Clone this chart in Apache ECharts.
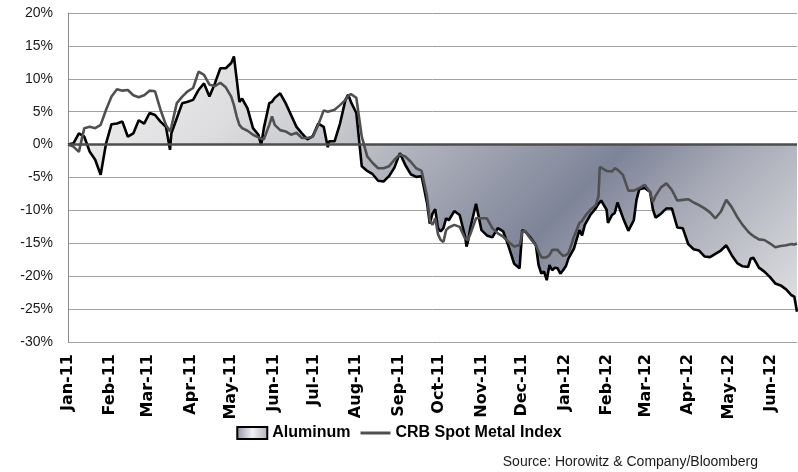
<!DOCTYPE html>
<html>
<head>
<meta charset="utf-8">
<title>Aluminum vs CRB Spot Metal Index</title>
<script src="https://cdn.jsdelivr.net/npm/echarts@6/dist/echarts.min.js"></script>
<style>
  html, body { margin: 0; padding: 0; background: #fff; }
  #chart { width: 798px; height: 472px; }
</style>
</head>
<body>
<div id="chart"></div>
<script>
// sample dates, values in % change since Jan-11
const dates = [
  '2011-01-01','2011-01-05','2011-01-09','2011-01-13','2011-01-17','2011-01-21','2011-01-25','2011-01-29',
  '2011-02-02','2011-02-06','2011-02-10','2011-02-14','2011-02-18','2011-02-22','2011-02-26',
  '2011-03-02','2011-03-06','2011-03-10','2011-03-14','2011-03-17','2011-03-18','2011-03-22','2011-03-26','2011-03-30',
  '2011-04-03','2011-04-07','2011-04-11','2011-04-15','2011-04-19','2011-04-23','2011-04-27',
  '2011-05-01','2011-05-03','2011-05-05','2011-05-07','2011-05-09','2011-05-13','2011-05-17','2011-05-21','2011-05-23','2011-05-25','2011-05-29','2011-05-31',
  '2011-06-02','2011-06-06','2011-06-10','2011-06-14','2011-06-18','2011-06-22','2011-06-26','2011-06-30',
  '2011-07-04','2011-07-08','2011-07-11','2011-07-12','2011-07-16','2011-07-20','2011-07-24','2011-07-26','2011-07-28',
  '2011-08-01','2011-08-05','2011-08-09','2011-08-13','2011-08-17','2011-08-21','2011-08-25','2011-08-29',
  '2011-09-02','2011-09-06','2011-09-10','2011-09-14','2011-09-18','2011-09-22','2011-09-24','2011-09-26','2011-09-28','2011-09-30',
  '2011-10-02','2011-10-04','2011-10-06','2011-10-08','2011-10-12','2011-10-16','2011-10-20','2011-10-21','2011-10-22','2011-10-24','2011-10-28',
  '2011-11-01','2011-11-05','2011-11-09','2011-11-13','2011-11-17','2011-11-21','2011-11-25','2011-11-29','2011-11-30',
  '2011-12-01','2011-12-03','2011-12-07','2011-12-11','2011-12-13','2011-12-15','2011-12-17','2011-12-19','2011-12-21','2011-12-23','2011-12-25','2011-12-27','2011-12-29','2011-12-31',
  '2012-01-02','2012-01-04','2012-01-08','2012-01-12','2012-01-14','2012-01-16','2012-01-20','2012-01-24','2012-01-26','2012-01-27','2012-01-28',
  '2012-02-01','2012-02-02','2012-02-05','2012-02-07','2012-02-09','2012-02-13','2012-02-17','2012-02-21','2012-02-23','2012-02-25','2012-02-29',
  '2012-03-04','2012-03-06','2012-03-08','2012-03-12','2012-03-16','2012-03-20','2012-03-24','2012-03-28',
  '2012-04-01','2012-04-05','2012-04-09','2012-04-13','2012-04-17','2012-04-21','2012-04-25','2012-04-29',
  '2012-05-03','2012-05-07','2012-05-11','2012-05-15','2012-05-17','2012-05-19','2012-05-23','2012-05-27','2012-05-31',
  '2012-06-04','2012-06-08','2012-06-12','2012-06-16','2012-06-18','2012-06-19','2012-06-20'
];

const aluminum = [
  0, 0.2, 1.7, 1.2, -1.1, -2.3, -4.6, 0.2,
  3.1, 3.2, 3.5, 1.2, 1.7, 3.7, 3.2,
  4.8, 4.5, 3.5, 2.7, -0.8, 1.7, 4.0, 6.3, 6.5,
  6.8, 8.3, 9.3, 7.3, 9.3, 11.6, 11.6,
  12.4, 13.4, 10.0, 6.5, 7.0, 5.5, 2.5, 1.5, -0.1, 2.5, 6.3, 6.5,
  7.1, 7.8, 6.3, 4.5, 2.7, 1.7, 0.8, 1.3,
  3.2, 2.7, -0.4, 0.5, 0.5, 3.2, 6.8, 7.6, 6.5,
  4.8, -3.3, -4.0, -4.5, -5.5, -5.6, -4.8, -3.5,
  -1.3, -3.1, -4.5, -4.9, -4.8, -8.9, -12.0, -10.5, -9.8, -12.7,
  -13.2, -12.7, -11.2, -11.5, -10.1, -10.7, -14.0, -15.5, -14.8, -12.5, -9.0,
  -13.0, -13.8, -14.1, -12.7, -13.2, -15.5, -18.1, -18.8, -18.8,
  -13.0, -13.2, -14.1, -15.3, -18.3, -19.6, -19.3, -20.6, -18.3, -19.1, -18.7, -18.8, -19.6, -19.1,
  -18.5, -17.3, -15.8, -13.0, -13.8, -12.2, -10.7, -9.7, -9.0, -8.7, -8.5,
  -9.9, -11.9, -10.7, -10.4, -8.8, -11.1, -13.1, -11.5, -8.4, -6.8, -6.6,
  -7.2, -9.8, -11.1, -10.5, -9.7, -9.7, -12.6, -12.7,
  -15.1, -15.9, -16.1, -17.0, -17.1, -16.6, -16.1, -15.3,
  -16.8, -18.0, -18.5, -18.6, -17.3, -17.2, -18.7, -19.3, -20.1,
  -21.1, -21.4, -22.0, -22.9, -23.1, -23.4, -25.4
];

const crb = [
  0, -0.3, -1.1, 2.5, 2.7, 2.5, 3.0, 5.3,
  7.3, 8.4, 8.2, 8.3, 7.5, 7.2, 7.5,
  8.2, 8.1, 5.3, 3.0, 2.0, 2.7, 6.3, 7.3, 8.1,
  8.6, 11.1, 10.6, 9.1, 8.9, 9.4, 8.7,
  7.3, 6.0, 4.3, 3.0, 2.5, 2.1, 1.5, 1.1, 0.9, 0.8, 3.0, 4.3,
  3.0, 2.2, 2.0, 1.5, 1.8, 1.0, 1.0, 1.2,
  3.0, 5.2, 5.0, 4.9, 5.3, 6.0, 6.8, 7.4, 7.7,
  7.1, 1.2, -1.8, -2.8, -3.6, -3.6, -3.3, -2.3,
  -1.5, -1.8, -2.6, -3.6, -4.0, -7.9, -11.5, -12.2, -11.2, -13.6,
  -14.5, -14.8, -13.0, -12.6, -12.2, -12.5, -14.3, -14.5, -14.5, -13.5, -11.2,
  -11.2, -11.2, -12.7, -13.5, -14.0, -14.8, -15.5, -15.3, -14.5,
  -13.2, -13.1, -14.3, -15.3, -16.3, -17.1, -17.2, -17.1, -16.8, -16.0, -16.0, -16.0, -16.5, -16.9,
  -16.8, -16.5, -14.0, -11.9, -11.6, -10.9, -9.9, -9.2, -7.9, -3.4, -3.1,
  -4.0, -4.1, -4.1, -3.6, -3.8, -4.6, -7.0, -7.0, -6.8, -6.6, -6.1,
  -7.2, -8.7, -7.8, -6.5, -5.9, -6.9, -8.5, -8.4,
  -8.3, -8.8, -9.2, -9.7, -10.3, -11.2, -10.2, -8.4,
  -9.5, -11.0, -12.2, -13.2, -13.6, -13.9, -14.4, -14.5, -15.0,
  -15.6, -15.4, -15.3, -15.1, -15.2, -15.0, -15.0
];

const monthNames = ['Jan', 'Feb', 'Mar', 'Apr', 'May', 'Jun', 'Jul', 'Aug', 'Sep', 'Oct', 'Nov', 'Dec'];

// one category per calendar day so month labels land on the 1st
function dayRange(from, to) {
  const out = [];
  const d = new Date(from + 'T00:00:00Z');
  const end = new Date(to + 'T00:00:00Z');
  while (d <= end) {
    out.push(d.toISOString().slice(0, 10));
    d.setUTCDate(d.getUTCDate() + 1);
  }
  return out;
}
const days = dayRange(dates[0], dates[dates.length - 1]);

const fill = {
  type: 'linear', x: 0, y: 0, x2: 560, y2: 560, global: true,
  colorStops: [
    { offset: 0, color: '#f3f3f3' },
    { offset: 0.21, color: '#e9e9ea' },
    { offset: 0.31, color: '#dcdcde' },
    { offset: 0.41, color: '#c8c9ce' },
    { offset: 0.55, color: '#a3a7b4' },
    { offset: 0.69, color: '#7e8498' },
    { offset: 0.80, color: '#a8abb7' },
    { offset: 0.93, color: '#cfd0d5' },
    { offset: 1, color: '#e3e3e5' }
  ]
}

const legendFill = {
  type: 'linear', x: 0, y: 0, x2: 1, y2: 0,
  colorStops: [
    { offset: 0, color: '#8d92a3' },
    { offset: 0.5, color: '#f2f2f5' },
    { offset: 1, color: '#aeb1bc' }
  ]
}

const chart = echarts.init(document.getElementById('chart'));

chart.setOption({
  animation: false,
  backgroundColor: '#fff',
  grid: { left: 68, right: 1, top: 13, bottom: 130 },
  xAxis: {
    type: 'category',
    data: days,
    boundaryGap: false,
    axisLine: { show: false },
    axisTick: { show: false },
    splitLine: { show: false },
    axisLabel: {
      interval: (idx, value) => value.endsWith('-01'),
      rotate: 90,
      margin: 12,
      color: '#000',
      fontFamily: 'DejaVu Sans',
      fontWeight: 'bold',
      fontSize: 16,
      formatter: v => monthNames[+v.slice(5, 7) - 1] + '-' + v.slice(2, 4)
    }
  },
  yAxis: {
    type: 'value',
    min: -30,
    max: 20,
    interval: 5,
    axisLine: { show: true, lineStyle: { color: '#8c8c8c', width: 1 } },
    axisTick: { show: false },
    splitLine: { lineStyle: { color: '#a0a0a0', width: 1 } },
    axisLabel: {
      margin: 15,
      color: '#1a1a1a',
      fontFamily: 'Liberation Sans',
      fontSize: 14,
      formatter: '{value}%'
    }
  },
  legend: {
    left: 'center',
    top: 420,
    itemWidth: 30,
    itemHeight: 12,
    itemGap: 10,
    textStyle: { fontFamily: 'Liberation Sans', fontWeight: 'bold', fontSize: 16, color: '#000' },
    data: [
      { name: 'Aluminum', icon: 'rect', itemStyle: { color: legendFill, borderColor: '#000', borderWidth: 2 } },
      { name: 'CRB Spot Metal Index', icon: 'path://M0,0 H30 V3 H0 Z', itemStyle: { color: '#505050' } }
    ]
  },
  series: [
    {
      name: 'Aluminum',
      type: 'line',
      data: dates.map((d, i) => [d, aluminum[i]]),
      symbol: 'none',
      itemStyle: { color: '#000' },
      lineStyle: { color: '#000', width: 2.6 },
      areaStyle: { color: fill, opacity: 1 },
      z: 2,
      markLine: {
        silent: true,
        symbol: 'none',
        label: { show: false },
        lineStyle: { color: '#4d4d4d', width: 2.5, type: 'solid' },
        data: [{ yAxis: 0 }]
      }
    },
    {
      name: 'CRB Spot Metal Index',
      type: 'line',
      data: dates.map((d, i) => [d, crb[i]]),
      symbol: 'none',
      itemStyle: { color: '#505050' },
      lineStyle: { color: '#505050', width: 2.6 },
      z: 3
    }
  ],
  graphic: [
    {
      type: 'text',
      right: 40,
      top: 455,
      style: {
        text: 'Source: Horowitz & Company/Bloomberg',
        fontFamily: 'Liberation Sans',
        fontSize: 14,
        fill: '#1a1a1a'
      }
    }
  ]
});
</script>
</body>
</html>
